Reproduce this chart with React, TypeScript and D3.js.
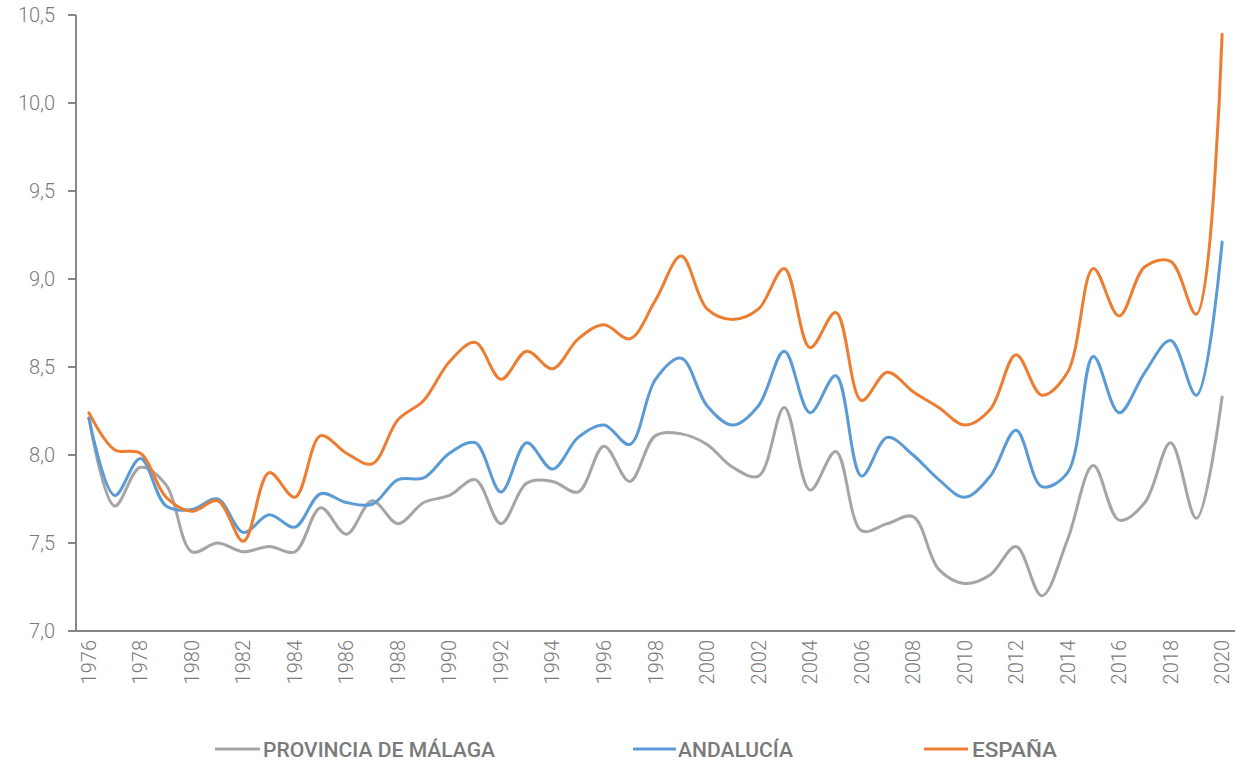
import React from "react";
import * as d3 from "d3";

const years: number[] = [
  1976, 1977, 1978, 1979, 1980, 1981, 1982, 1983, 1984, 1985, 1986, 1987, 1988, 1989, 1990,
  1991, 1992, 1993, 1994, 1995, 1996, 1997, 1998, 1999, 2000, 2001, 2002, 2003, 2004, 2005,
  2006, 2007, 2008, 2009, 2010, 2011, 2012, 2013, 2014, 2015, 2016, 2017, 2018, 2019, 2020,
];

const malaga: number[] = [
  8.21, 7.71, 7.93, 7.83, 7.45, 7.5, 7.45, 7.48, 7.45, 7.7, 7.55, 7.74, 7.61, 7.73, 7.77,
  7.86, 7.61, 7.84, 7.85, 7.79, 8.05, 7.85, 8.11, 8.12, 8.06, 7.93, 7.88, 8.27, 7.8, 8.02,
  7.57, 7.61, 7.65, 7.35, 7.27, 7.32, 7.48, 7.2, 7.52, 7.94, 7.63, 7.73, 8.07, 7.64, 8.33,
];

const andalucia: number[] = [
  8.21, 7.77, 7.98, 7.71, 7.69, 7.75, 7.56, 7.66, 7.59, 7.78, 7.73, 7.72, 7.86, 7.87, 8.01,
  8.07, 7.79, 8.07, 7.92, 8.1, 8.17, 8.06, 8.43, 8.55, 8.28, 8.17, 8.28, 8.59, 8.24, 8.45,
  7.88, 8.1, 8.0, 7.86, 7.76, 7.88, 8.14, 7.82, 7.9, 8.56, 8.24, 8.47, 8.65, 8.34, 9.21,
];

const espana: number[] = [
  8.24, 8.03, 8.01, 7.76, 7.68, 7.74, 7.51, 7.9, 7.76, 8.11, 8.01, 7.95, 8.2, 8.31, 8.53,
  8.64, 8.43, 8.59, 8.49, 8.66, 8.74, 8.66, 8.88, 9.13, 8.83, 8.77, 8.83, 9.06, 8.61, 8.81,
  8.31, 8.47, 8.36, 8.27, 8.17, 8.26, 8.57, 8.34, 8.47, 9.06, 8.79, 9.07, 9.1, 8.8, 10.39,
];

const yTicks: number[] = [7.0, 7.5, 8.0, 8.5, 9.0, 9.5, 10.0, 10.5];
const xTickYears: number[] = years.filter((y) => (y - 1976) % 2 === 0);

const seriesNames: string[] = ["PROVINCIA DE MÁLAGA", "ANDALUCÍA", "ESPAÑA"];
const seriesColors: string[] = ["#A5A5A5", "#5B9BD5", "#ED7D31"];
const seriesValues: number[][] = [malaga, andalucia, espana];

const W = 1237;
const H = 764;
const left = 76;
const right = 1235;
const top = 15;
const bottom = 631;

export default function App() {
  const x = d3.scalePoint<number>().domain(years).range([left, right]).padding(0.5);
  const y = d3.scaleLinear().domain([7, 10.5]).range([bottom, top]);
  const line = d3
    .line<number>()
    .x((_, i) => x(years[i]) as number)
    .y((d) => y(d))
    .curve(d3.curveCatmullRom.alpha(0.5));

  const fmt = (v: number) => v.toFixed(1).replace(".", ",");
  const legendLine = [
    [215, 260],
    [633, 676],
    [924, 968],
  ];
  const legendText = [263, 678, 972];
  const legendLen = [232, 115, 85];

  return (
    <svg
      width={W}
      height={H}
      style={{ position: "absolute", left: 0, top: 0, background: "#fff" }}
      fontFamily="Roboto, 'Noto Sans', sans-serif"
    >
      {/* y axis */}
      <line x1={left} x2={left} y1={top} y2={bottom} stroke="#878787" strokeWidth={2} />
      {yTicks.map((t) => (
        <g key={t}>
          <line x1={left - 8} x2={left} y1={y(t)} y2={y(t)} stroke="#878787" strokeWidth={2} />
          <text
            x={55}
            y={y(t)}
            dy="0.35em"
            textAnchor="end"
            fontSize={20}
            fontWeight={300}
            fill="#7a7a7a"
          >
            {fmt(t)}
          </text>
        </g>
      ))}
      {/* x axis */}
      <line x1={left} x2={right} y1={bottom} y2={bottom} stroke="#878787" strokeWidth={2} />
      {xTickYears.map((yr) => (
        <text
          key={yr}
          transform={`translate(${x(yr)},${bottom + 9}) rotate(-90)`}
          dy="0.35em"
          textAnchor="end"
          fontSize={20}
          fontWeight={300}
          fill="#7a7a7a"
        >
          {yr}
        </text>
      ))}
      {/* lines */}
      {seriesValues.map((vals, i) => (
        <path
          key={seriesNames[i]}
          d={line(vals) || ""}
          fill="none"
          stroke={seriesColors[i]}
          strokeWidth={3}
          strokeLinejoin="round"
          strokeLinecap="round"
        />
      ))}
      {/* legend */}
      {seriesNames.map((name, i) => (
        <g key={name}>
          <line
            x1={legendLine[i][0]}
            x2={legendLine[i][1]}
            y1={749}
            y2={749}
            stroke={seriesColors[i]}
            strokeWidth={3}
          />
          <text
            x={legendText[i]}
            y={757}
            fontSize={20}
            fontWeight={500}
            fill="#7a7a7a"
            textLength={legendLen[i]}
            lengthAdjust="spacingAndGlyphs"
          >
            {name}
          </text>
        </g>
      ))}
    </svg>
  );
}
